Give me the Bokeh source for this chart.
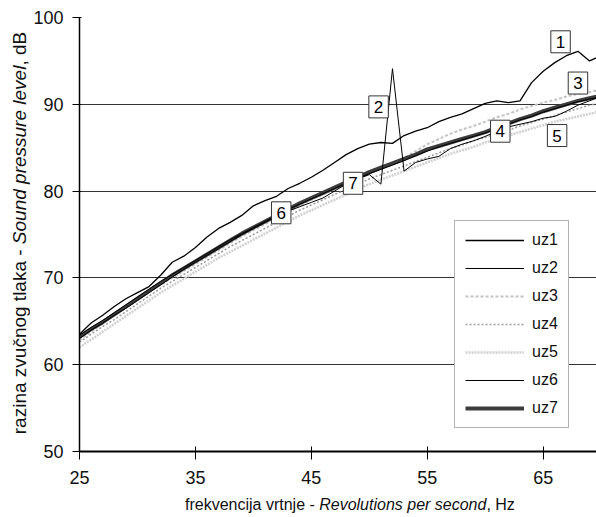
import math
from bokeh.plotting import figure
from bokeh.layouts import row, column
from bokeh.models import Range1d, Label, Legend, LegendItem, FixedTicker
from bokeh.core.properties import value
from bokeh.embed import file_html
from bokeh.resources import INLINE

FONT = "Liberation Sans"

hz = list(range(25, 71))

uz1 = [63.5, 64.8, 65.7, 66.7, 67.6, 68.3, 69.0, 70.3, 71.8, 72.5, 73.5, 74.7, 75.7, 76.4, 77.2, 78.3,
       78.9, 79.4, 80.3, 80.9, 81.6, 82.4, 83.3, 84.2, 84.9, 85.4, 85.6, 85.5, 86.4, 86.9, 87.3, 88.0,
       88.5, 88.9, 89.5, 90.1, 90.4, 90.2, 90.4, 92.5, 93.8, 94.8, 95.6, 96.1, 95.0, 95.6]
uz2 = [63.4, 64.3, 65.1, 66.0, 66.9, 67.8, 68.7, 69.6, 70.4, 71.2, 72.0, 72.8, 73.6, 74.4, 75.1, 75.8,
       76.5, 77.2, 77.9, 78.5, 79.1, 79.7, 80.3, 80.9, 81.4, 81.9, 80.8, 94.1, 82.3, 83.3, 83.7, 84.0,
       84.9, 85.4, 85.8, 86.3, 86.9, 87.4, 87.7, 88.0, 88.4, 88.6, 89.2, 89.9, 90.4, 90.9]
uz3 = [62.8, 63.8, 64.8, 65.9, 66.8, 67.6, 68.4, 69.2, 70.0, 70.8, 71.6, 72.4, 73.2, 74.0, 74.8, 75.5,
       76.2, 76.9, 77.6, 78.3, 79.0, 79.6, 80.2, 80.8, 81.4, 82.0, 82.6, 83.2, 83.8, 84.6, 85.4, 86.0,
       86.6, 87.1, 87.5, 88.0, 88.5, 88.9, 89.4, 89.8, 90.2, 90.5, 90.9, 91.2, 91.4, 91.7]
uz4 = [62.6, 63.5, 64.4, 65.2, 66.1, 67.0, 67.9, 68.8, 69.6, 70.4, 71.2, 72.0, 72.8, 73.6, 74.3, 75.0,
       75.7, 76.4, 77.1, 77.8, 78.4, 79.0, 79.6, 80.2, 80.8, 81.4, 81.9, 82.4, 82.9, 83.4, 83.9, 84.4,
       84.9, 85.3, 85.8, 86.2, 86.6, 87.0, 87.5, 87.9, 88.3, 88.7, 89.1, 89.5, 89.9, 90.2]
uz5 = [62.0, 62.9, 63.8, 64.7, 65.6, 66.5, 67.4, 68.3, 69.1, 69.9, 70.7, 71.5, 72.3, 73.0, 73.7, 74.4,
       75.1, 75.8, 76.5, 77.2, 77.8, 78.4, 79.0, 79.6, 80.2, 80.8, 81.3, 81.8, 82.3, 82.8, 83.3, 83.8,
       84.3, 84.7, 85.1, 85.6, 86.0, 86.4, 86.8, 87.2, 87.6, 88.0, 88.3, 88.6, 88.9, 89.2]
uz6 = [63.0, 64.0, 64.8, 65.7, 66.5, 67.4, 68.3, 69.2, 70.1, 71.0, 71.8, 72.6, 73.4, 74.2, 75.0, 75.7,
       76.4, 77.1, 77.7, 78.2, 78.7, 79.2, 80.0, 80.8, 81.5, 82.0, 82.5, 83.0, 83.5, 84.1, 84.6, 85.1,
       85.5, 85.9, 86.3, 86.7, 87.2, 87.7, 88.2, 88.6, 89.1, 89.5, 89.9, 90.3, 90.6, 90.9]
uz7 = [63.2, 64.1, 64.9, 65.8, 66.7, 67.6, 68.5, 69.4, 70.3, 71.1, 71.9, 72.7, 73.5, 74.3, 75.1, 75.8,
       76.5, 77.2, 77.9, 78.6, 79.2, 79.8, 80.4, 81.0, 81.6, 82.2, 82.7, 83.2, 83.7, 84.2, 84.8, 85.2,
       85.6, 86.0, 86.4, 86.8, 87.3, 87.8, 88.3, 88.7, 89.2, 89.6, 90.0, 90.4, 90.7, 91.0]

series_names = ["uz1", "uz2", "uz3", "uz4", "uz5", "uz6", "uz7"]
series_values = [uz1, uz2, uz3, uz4, uz5, uz6, uz7]

# boxed curve numbers (Hz, dB)
tag_text = ["1", "2", "3", "4", "5", "6", "7"]
tag_x = [66.5, 50.8, 68.0, 61.3, 66.2, 42.4, 48.6]
tag_y = [97.2, 89.7, 92.45, 86.9, 86.4, 77.5, 80.9]

x_ticks = [25, 35, 45, 55, 65]
y_ticks = [50, 60, 70, 80, 90, 100]

# axis title pieces: (text, font style)
x_title = [("frekvencija vrtnje -", "normal"), ("Revolutions per second", "italic"), (", Hz", "normal")]
y_title = [("razina zvučnog tlaka -", "normal"), ("Sound pressure level", "italic"), (", dB", "normal")]

W_LEFT, W_MAIN = 30, 566
H_MAIN, H_BOTTOM = 490, 27
B_TOP, B_BOTTOM = 17, 39
FRAME_H = H_MAIN - B_TOP - B_BOTTOM

p = figure(width=W_MAIN, height=H_MAIN, output_backend="svg", toolbar_location=None,
           x_range=Range1d(25, 69.6), y_range=Range1d(50, 100),
           min_border_left=49, min_border_right=0, min_border_top=B_TOP, min_border_bottom=B_BOTTOM)
p.outline_line_color = None
p.background_fill_color = "white"

styles = {
    "uz1": dict(line_color="black", line_width=1.3),
    "uz2": dict(line_color="black", line_width=1.0),
    "uz3": dict(line_color="#c4c4c4", line_width=2.0, line_dash="3 2"),
    "uz4": dict(line_color="#9a9a9a", line_width=1.5, line_dash="2 2"),
    "uz5": dict(line_color="#d0d0d0", line_width=2.5, line_dash="2 1"),
    "uz6": dict(line_color="black", line_width=1.0),
    "uz7": dict(line_color="#3c3c3c", line_width=4.0),
}

renderers = {}
for name in ["uz5", "uz4", "uz3", "uz7", "uz6", "uz2", "uz1"]:
    vals = series_values[series_names.index(name)]
    renderers[name] = p.line(hz, vals, line_join="round", **styles[name])

legend = Legend(items=[LegendItem(label=n, renderers=[renderers[n]]) for n in series_names],
                location=(375, 23), padding=10, spacing=10, glyph_height=16, label_height=16,
                glyph_width=59, label_standoff=8, label_width=26, margin=0,
                label_text_font=FONT, label_text_font_size="16px", label_text_color="#111111",
                border_line_color="#666666", border_line_width=1,
                background_fill_color="white", background_fill_alpha=1.0)
p.add_layout(legend)

for t, x, y in zip(tag_text, tag_x, tag_y):
    p.add_layout(Label(x=x, y=y, text=t, text_align="center", text_baseline="middle",
                       text_font=FONT, text_font_size="17px", text_color="black",
                       border_line_color="#333333", border_line_width=1,
                       background_fill_color="white", background_fill_alpha=1.0, padding=5))

for ax in (p.xaxis[0], p.yaxis[0]):
    ax.major_label_text_font = FONT
    ax.major_label_text_font_size = "18px"
    ax.major_label_text_color = "#111111"
    ax.axis_line_color = "black"
    ax.major_tick_line_color = "black"
    ax.minor_tick_line_color = None
p.xaxis.ticker = FixedTicker(ticks=x_ticks)
p.yaxis.ticker = FixedTicker(ticks=y_ticks)
p.xaxis.axis_line_width = 2
p.yaxis.axis_line_width = 1.5
p.xaxis.major_tick_in = 5
p.xaxis.major_tick_out = 8
p.yaxis.major_tick_in = 2
p.yaxis.major_tick_out = 7
p.xaxis.major_label_standoff = 11
p.yaxis.major_label_standoff = 9
p.xgrid.grid_line_color = None
p.ygrid.grid_line_color = "#333333"
p.ygrid.grid_line_width = 1


def blank_fig(w, h, top=0, bottom=0, yspan=None):
    f = figure(width=w, height=h, output_backend="svg", toolbar_location=None,
               x_range=Range1d(0, w), y_range=Range1d(0, yspan if yspan else h),
               x_axis_type=None, y_axis_type=None,
               min_border=0, min_border_left=0, min_border_right=0,
               min_border_top=top, min_border_bottom=bottom)
    f.outline_line_color = None
    f.xgrid.grid_line_color = None
    f.ygrid.grid_line_color = None
    return f


# y title (rotated): frame aligned with the chart frame, y measured up from its bottom
yf = blank_fig(W_LEFT, H_MAIN, top=B_TOP, bottom=B_BOTTOM, yspan=FRAME_H)
y_centers = [109.7, 296.6, 402.8]
for (txt, st), yc in zip(y_title, y_centers):
    yf.text(x=[19], y=[yc], text=[txt], angle=math.pi / 2, text_align="center",
            text_baseline="middle", text_font=value(FONT), text_font_size="19px",
            text_font_style=st, text_color="#111111")

# x title pieces
xf = blank_fig(W_LEFT + W_MAIN, H_BOTTOM)
x_starts = [184.5, 318.7, 485.9]
for (txt, st), xs in zip(x_title, x_starts):
    xf.text(x=[xs], y=[13], text=[txt], text_align="left", text_baseline="alphabetic",
            text_font=value(FONT), text_font_size="16px", text_font_style=st,
            text_color="#111111")

layout = column(row(yf, p, spacing=0), xf, spacing=0)

open("out.html", "w").write(file_html(layout, INLINE))
